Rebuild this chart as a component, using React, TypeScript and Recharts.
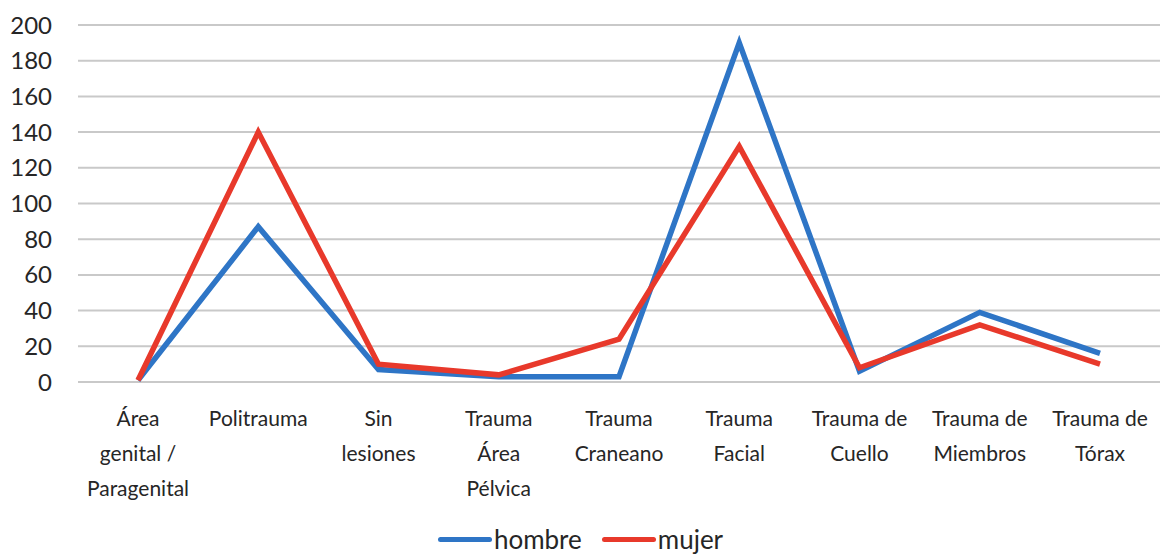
import { LineChart, Line, XAxis, YAxis, CartesianGrid, Legend } from 'recharts';

const categories = [
  'Área genital / Paragenital',
  'Politrauma',
  'Sin lesiones',
  'Trauma Área Pélvica',
  'Trauma Craneano',
  'Trauma Facial',
  'Trauma de Cuello',
  'Trauma de Miembros',
  'Trauma de Tórax',
];

// wrapped the way the original axis shows them
const tickLines = [
  ['Área', 'genital /', 'Paragenital'],
  ['Politrauma'],
  ['Sin', 'lesiones'],
  ['Trauma', 'Área', 'Pélvica'],
  ['Trauma', 'Craneano'],
  ['Trauma', 'Facial'],
  ['Trauma de', 'Cuello'],
  ['Trauma de', 'Miembros'],
  ['Trauma de', 'Tórax'],
];

const hombre = [1, 87, 7, 3, 3, 190, 6, 39, 16];
const mujer = [1, 140, 10, 4, 24, 132, 8, 32, 10];

const yTicks = [0, 20, 40, 60, 80, 100, 120, 140, 160, 180, 200];

const data = categories.map((c, i) => ({ name: c, hombre: hombre[i], mujer: mujer[i] }));

const BLUE = '#2E75C6';
const RED = '#E8392B';
const FONT = 'Lato, "Open Sans", sans-serif';

const CategoryTick = (props: any) => {
  const { x, y, index } = props;
  const lines = tickLines[index] || [];
  return (
    <text x={x} y={y} textAnchor="middle" fill="#262626" fontSize={21} fontFamily={FONT}>
      {lines.map((l, i) => (
        <tspan key={i} x={x} dy={i === 0 ? 38 : 35}>
          {l}
        </tspan>
      ))}
    </text>
  );
};

const LegendBox = () => (
  <div
    style={{
      height: 30,
      display: 'flex',
      justifyContent: 'center',
      alignItems: 'center',
      fontFamily: FONT,
      fontSize: 26,
      lineHeight: '30px',
      color: '#262626',
    }}
  >
    <span style={{ display: 'inline-block', width: 54, height: 5, background: BLUE, borderRadius: 3 }} />
    <span style={{ marginLeft: 2, marginRight: 20 }}>hombre</span>
    <span style={{ display: 'inline-block', width: 54, height: 5, background: RED, borderRadius: 3 }} />
    <span style={{ marginLeft: 2 }}>mujer</span>
  </div>
);

export default function App() {
  return (
    <div style={{ position: 'absolute', top: 0, left: 0, background: '#fff', width: 1161, height: 554 }}>
      <LineChart width={1161} height={554} data={data} margin={{ top: 25, right: 1, left: 0, bottom: 0 }}>
        <CartesianGrid vertical={false} stroke="#C9C9C9" strokeWidth={2} />
        <XAxis
          dataKey="name"
          axisLine={false}
          tickLine={false}
          interval={0}
          height={142}
          padding={{ left: 60, right: 60 }}
          tick={<CategoryTick />}
          tickMargin={0}
        />
        <YAxis
          domain={[0, 200]}
          ticks={yTicks}
          axisLine={false}
          tickLine={false}
          width={78}
          tickMargin={20}
          tick={{ fill: '#262626', fontSize: 24, fontFamily: FONT }}
        />
        <Legend
          verticalAlign="bottom"
          content={<LegendBox />}
          wrapperStyle={{ top: 524, bottom: 'auto', left: 0, width: 1161 }}
        />
        <Line dataKey="hombre" stroke={BLUE} strokeWidth={5.5} dot={false} isAnimationActive={false} />
        <Line dataKey="mujer" stroke={RED} strokeWidth={5.5} dot={false} isAnimationActive={false} />
      </LineChart>
    </div>
  );
}
